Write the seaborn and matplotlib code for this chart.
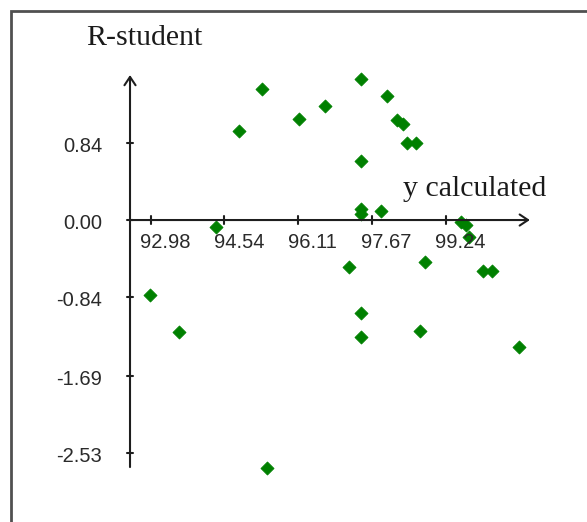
import matplotlib.pyplot as plt
import matplotlib.patches as mpatches
import seaborn as sns
import pandas as pd

# values
y_calc = [92.96, 93.59, 94.36, 94.86, 95.33, 95.45, 96.12, 96.68, 97.19, 97.44,
          97.44, 97.44, 97.45, 97.44, 97.44, 97.86, 97.99, 98.20, 98.34, 98.41,
          98.61, 98.68, 98.80, 99.56, 99.67, 99.74, 100.03, 100.21, 100.78]
r_student = [-0.81, -1.22, -0.08, 0.97, 1.42, -2.69, 1.10, 1.24, -0.51, 1.53,
             0.64, 0.12, 0.07, -1.01, -1.27, 0.10, 1.35, 1.09, 1.04, 0.84,
             0.84, -1.20, -0.46, -0.02, -0.05, -0.18, -0.55, -0.55, -1.38]

x_ticks = [92.98, 94.54, 96.11, 97.67, 99.24]
y_ticks = [0.84, 0.00, -0.84, -1.69, -2.53]
x_title = "y calculated"
y_title = "R-student"

df = pd.DataFrame({"y calculated": y_calc, "R-student": r_student})

sns.set_style("white")
plt.rcParams["font.family"] = ["Liberation Sans", "DejaVu Sans"]

W, H = 587, 522
fig = plt.figure(figsize=(W / 100, H / 100), dpi=100)
ax = fig.add_axes([0, 0, 1, 1])
ax.set_xlim(89.784, 102.232)
ax.set_ylim(-3.276, 2.387)

axis_col = "#1e1e1e"
yaxis_x = 92.541          # where the vertical axis crosses
x_end, y_top, y_bot = 101.02, 1.573, -2.68

sns.scatterplot(data=df, x="y calculated", y="R-student", ax=ax, marker="D",
                color="#008000", s=44, edgecolor="#008000", linewidth=0.6, zorder=3)

# axis lines with open arrow heads
for sp in ax.spines.values():
    sp.set_visible(False)
ax.set_xticks([])
ax.set_yticks([])
ax.set_xlabel("")
ax.set_ylabel("")
arrow = dict(arrowstyle="->,head_length=0.6,head_width=0.4", lw=1.5,
             color=axis_col, shrinkA=0, shrinkB=0)
ax.annotate("", xy=(x_end, 0), xytext=(yaxis_x, 0), arrowprops=arrow)
ax.annotate("", xy=(yaxis_x, y_top), xytext=(yaxis_x, y_bot), arrowprops=arrow)

# tick marks + labels
tick_lbl = dict(fontsize=14.5, color="#2a2a2a", textcoords="offset points")
for t in x_ticks:
    ax.plot([t, t], [0.04, -0.04], color=axis_col, lw=1.5)
    ax.annotate(f"{t:.2f}", (t, 0), xytext=(-7.5, -9.5), ha="left", va="top", **tick_lbl)
for t in y_ticks:
    ax.plot([yaxis_x - 0.06, yaxis_x + 0.06], [t, t], color=axis_col, lw=1.5)
    ax.annotate(f"{t:.2f}", (yaxis_x, t), xytext=(-20, -2.5), ha="right", va="center", **tick_lbl)

# axis titles
ax.text(86 / W, 1 - 45 / H, y_title, transform=ax.transAxes, fontsize=21.5,
        family="Liberation Serif", color="#1a1a1a", va="baseline", ha="left")
ax.text(403 / W, 1 - 196 / H, x_title, transform=ax.transAxes, fontsize=21.5,
        family="Liberation Serif", color="#1a1a1a", va="baseline", ha="left")

# outer frame (runs past right and bottom edges)
frame = mpatches.Rectangle((11 / W, -0.1), 1.2, 1.1 - 11 / H, transform=ax.transAxes,
                           fill=False, lw=2, edgecolor="#505050", clip_on=False)
ax.add_patch(frame)

fig.savefig("out.png", dpi=100)
